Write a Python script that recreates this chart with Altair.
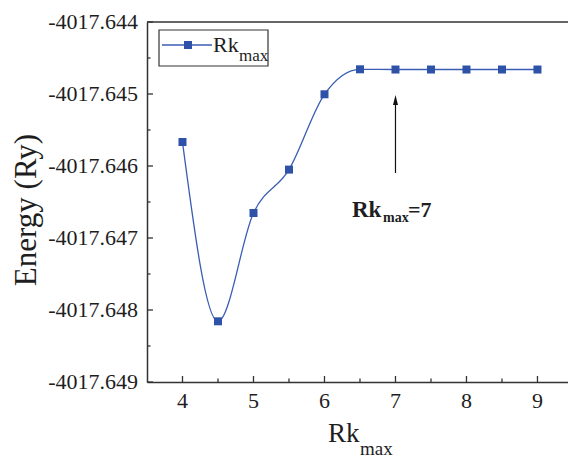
import altair as alt
import pandas as pd

# Total energy versus the plane-wave cutoff parameter Rk_max
rk_max = [4, 4.5, 5, 5.5, 6, 6.5, 7, 7.5, 8, 8.5, 9]
energy = [-4017.645667, -4017.648157, -4017.646653, -4017.646050, -4017.645004,
          -4017.644657, -4017.644660, -4017.644660, -4017.644660, -4017.644660,
          -4017.644660]

x_major = [4, 5, 6, 7, 8, 9]
x_minor = [4.5, 5.5, 6.5, 7.5, 8.5]
y_major = [-4017.649, -4017.648, -4017.647, -4017.646, -4017.645, -4017.644]
y_minor = [-4017.6485, -4017.6475, -4017.6465, -4017.6455, -4017.6445]
x_labels = ["4", "5", "6", "7", "8", "9"]
y_labels = ["-4017.649", "-4017.648", "-4017.647", "-4017.646", "-4017.645", "-4017.644"]

W, H = 421, 360
BLUE = "#2d52a8"
LINE = "#3a5db4"
INK = "#1e1e1e"
AXIS = "#333333"
SERIF = "Liberation Serif"

df = pd.DataFrame({"rk": rk_max, "e": energy})
one = pd.DataFrame({"k": [0]})

xs = alt.Scale(domain=[3.5, 9.43], nice=False, zero=False)
ys = alt.Scale(domain=[-4017.649, -4017.644], nice=False, zero=False)

x_axis = alt.Axis(values=x_major, ticks=False, grid=False, labels=False,
                  domainColor=AXIS, domainWidth=1.5, title=None)
y_axis = alt.Axis(values=y_major, ticks=False, grid=False, labels=False,
                  domainColor=AXIS, domainWidth=1.5, title=None)

curve = alt.Chart(df).mark_line(color=LINE, strokeWidth=1.3, interpolate="monotone").encode(
    x=alt.X("rk:Q", scale=xs, axis=x_axis),
    y=alt.Y("e:Q", scale=ys, axis=y_axis),
)
dots = alt.Chart(df).mark_square(color=BLUE, size=64, opacity=1).encode(
    x=alt.X("rk:Q", scale=xs), y=alt.Y("e:Q", scale=ys)
)

# inward ticks
xt_major = alt.Chart(pd.DataFrame({"t": x_major})).mark_rule(color=AXIS, strokeWidth=1.3).encode(
    x=alt.X("t:Q", scale=xs), y=alt.value(H), y2=alt.value(H - 6))
xt_minor = alt.Chart(pd.DataFrame({"t": x_minor})).mark_rule(color=AXIS, strokeWidth=1.3).encode(
    x=alt.X("t:Q", scale=xs), y=alt.value(H), y2=alt.value(H - 3.5))
yt_major = alt.Chart(pd.DataFrame({"t": y_major})).mark_rule(color=AXIS, strokeWidth=1.3).encode(
    y=alt.Y("t:Q", scale=ys), x=alt.value(0), x2=alt.value(6))
yt_minor = alt.Chart(pd.DataFrame({"t": y_minor})).mark_rule(color=AXIS, strokeWidth=1.3).encode(
    y=alt.Y("t:Q", scale=ys), x=alt.value(0), x2=alt.value(3.5))
top_frame = alt.Chart(one).mark_rule(color=AXIS, strokeWidth=1.5).encode(
    x=alt.value(0), x2=alt.value(W), y=alt.value(0))

# tick labels
x_tick_text = alt.Chart(pd.DataFrame({"t": x_major, "s": x_labels})).mark_text(
    font=SERIF, fontSize=22, color=INK, align="center", baseline="alphabetic"
).encode(x=alt.X("t:Q", scale=xs), y=alt.value(H + 26), text="s:N")
y_tick_text = alt.Chart(pd.DataFrame({"t": y_major, "s": y_labels})).mark_text(
    font=SERIF, fontSize=22, color=INK, align="right", baseline="middle"
).encode(y=alt.Y("t:Q", scale=ys), x=alt.value(-9), text="s:N")

# legend
leg_box = alt.Chart(one).mark_rect(fill="white", stroke=AXIS, strokeWidth=1.2).encode(
    x=alt.value(12), x2=alt.value(121), y=alt.value(8), y2=alt.value(44))
leg_line = alt.Chart(one).mark_rule(color=LINE, strokeWidth=1.3).encode(
    x=alt.value(15), x2=alt.value(65), y=alt.value(23))
leg_dot = alt.Chart(one).mark_square(color=BLUE, size=64, opacity=1).encode(
    x=alt.value(41), y=alt.value(23))


def label(txt, x, y, size, bold=False, **kw):
    return alt.Chart(one).mark_text(
        text=txt, font=SERIF, fontSize=size, color=INK, align="left",
        baseline="alphabetic", fontWeight="bold" if bold else "normal", **kw
    ).encode(x=alt.value(x), y=alt.value(y))


leg_txt = label("Rk", 66, 30, 22)
leg_sub = label("max", 92, 39, 17)

# arrow pointing at the converged value
arrow_shaft = alt.Chart(pd.DataFrame({"rk": [7]})).mark_rule(color="#111", strokeWidth=1.2).encode(
    x=alt.X("rk:Q", scale=xs), y=alt.value(151), y2=alt.value(80))
arrow_head = alt.Chart(pd.DataFrame({"rk": [7]})).mark_point(
    shape="M0,-1L0.5,1L-0.5,1Z", filled=True, color="#111", size=100, opacity=1
).encode(x=alt.X("rk:Q", scale=xs), y=alt.value(78))
ann_a = label("Rk", 205, 195, 23, bold=True)
ann_b = label("max", 236, 200, 14, bold=True)
ann_c = label("=7", 261, 195, 22, bold=True)

# axis titles
xt_a = label("Rk", 181, 420, 27)
xt_b = label("max", 213, 433, 19)
yt = alt.Chart(one).mark_text(
    text="Energy (Ry)", font=SERIF, fontSize=31, color=INK, align="center",
    baseline="alphabetic", angle=270
).encode(x=alt.value(-111), y=alt.value(188))

chart = alt.layer(
    curve, xt_major, xt_minor, yt_major, yt_minor, top_frame,
    x_tick_text, y_tick_text,
    leg_box, leg_line, leg_dot, leg_txt, leg_sub,
    arrow_shaft, arrow_head, ann_a, ann_b, ann_c,
    xt_a, xt_b, yt, dots,
).properties(
    width=W, height=H,
    autosize=alt.AutoSizeParams(type="none"),
    padding={"left": 147, "top": 22, "right": 0, "bottom": 77},
    background="white",
).configure_view(stroke=None)

chart.save("out.html", embed_options={"renderer": "svg", "actions": False})
